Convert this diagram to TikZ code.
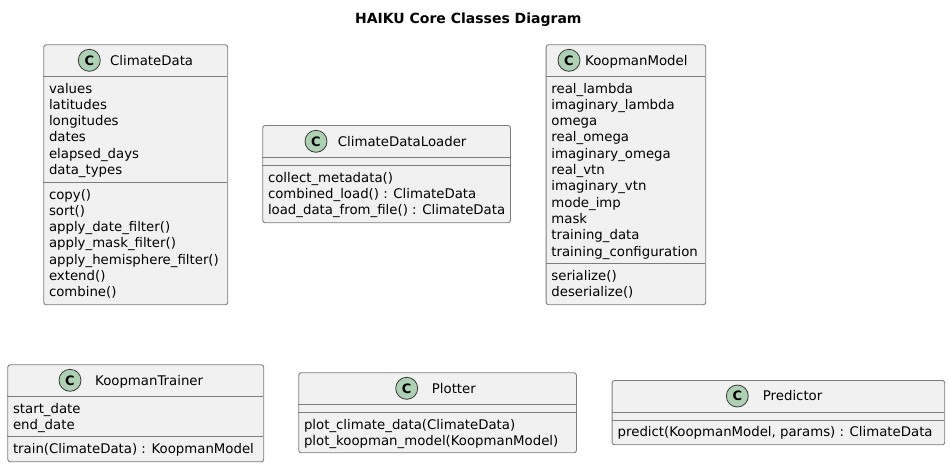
\documentclass[tikz,border=0pt]{standalone}
\usepackage{fontspec}
\setmainfont{DejaVu Sans}
\definecolor{boxfill}{HTML}{F1F1F1}
\definecolor{boxline}{HTML}{7C7C7C}
\definecolor{iconfill}{HTML}{ADD1B2}
\definecolor{iconline}{HTML}{383838}

\begin{document}
\begin{tikzpicture}[x=1pt,y=-1pt,
    classbox/.style={draw=boxline, fill=boxfill, rounded corners=2.5pt, line width=0.9pt, inner sep=0pt, anchor=north west},
    sepline/.style={draw=boxline, line width=0.9pt},
    classicon/.style={circle, draw=iconline, fill=iconfill, line width=0.8pt, minimum size=22pt, inner sep=0pt, font=\fontsize{13}{13}\selectfont\bfseries},
    classname/.style={anchor=base west, inner sep=0pt, font=\fontsize{13.3}{16}\selectfont},
    member/.style={anchor=base west, inner sep=0pt, font=\fontsize{13.3}{16}\selectfont}]
    \useasboundingbox (0,0) rectangle (950,467);
    \node[anchor=base, inner sep=0pt, font=\fontsize{14}{16}\selectfont\bfseries] (title) at (468.3,23.4) {HAIKU Core Classes Diagram};

    % ClimateData
    \node[classbox, minimum width=184pt, minimum height=260pt] (climatedata) at (43.3,44.3) {};
    \draw[sepline] (43.3,76.3) -- (227.3,76.3);
    \draw[sepline] (43.3,182.3) -- (227.3,182.3);
    \node[classicon] (climatedata-c) at (89.3,60.3) {C};
    \node[classname] (climatedata-name) at (110,65.2) {ClimateData};
    \foreach \t [count=\i from 0] in {values, latitudes, longitudes, dates, elapsed\_days, data\_types}
        \node[member] (climatedata-a\i) at (48.8,{93+16.3*\i}) {\t};
    \foreach \t [count=\i from 0] in {copy(), sort(), apply\_date\_filter(), apply\_mask\_filter(), apply\_hemisphere\_filter(), extend(), combine()}
        \node[member] (climatedata-m\i) at (48.8,{199+16.3*\i}) {\t};

    % ClimateDataLoader
    \node[classbox, minimum width=247.7pt, minimum height=97.3pt] (loader) at (262.3,125) {};
    \draw[sepline] (262.3,157.3) -- (510,157.3);
    \draw[sepline] (262.3,165.3) -- (510,165.3);
    \node[classicon] (loader-c) at (316,141.3) {C};
    \node[classname] (loader-name) at (337.7,146.2) {ClimateDataLoader};
    \foreach \t [count=\i from 0] in {collect\_metadata(), combined\_load() : ClimateData, load\_data\_from\_file() : ClimateData}
        \node[member] (loader-m\i) at (267.8,{182+16.3*\i}) {\t};

    % KoopmanModel
    \node[classbox, minimum width=159.6pt, minimum height=260pt] (model) at (545.7,44.3) {};
    \draw[sepline] (545.7,76.3) -- (705.3,76.3);
    \draw[sepline] (545.7,263.3) -- (705.3,263.3);
    \node[classicon] (model-c) at (569,60.3) {C};
    \node[classname] (model-name) at (585,65.2) {KoopmanModel};
    \foreach \t [count=\i from 0] in {real\_lambda, imaginary\_lambda, omega, real\_omega, imaginary\_omega, real\_vtn, imaginary\_vtn, mode\_imp, mask, training\_data, training\_configuration}
        \node[member] (model-a\i) at (551.2,{93+16.3*\i}) {\t};
    \foreach \t [count=\i from 0] in {serialize(), deserialize()}
        \node[member] (model-m\i) at (551.2,{280+16.3*\i}) {\t};

    % KoopmanTrainer
    \node[classbox, minimum width=256pt, minimum height=97pt] (trainer) at (7.3,364.3) {};
    \draw[sepline] (7.3,396.3) -- (263.3,396.3);
    \draw[sepline] (7.3,436.3) -- (263.3,436.3);
    \node[classicon] (trainer-c) at (70,380.3) {C};
    \node[classname] (trainer-name) at (95,385.2) {KoopmanTrainer};
    \foreach \t [count=\i from 0] in {start\_date, end\_date}
        \node[member] (trainer-a\i) at (12.8,{413+16.3*\i}) {\t};
    \node[member] (trainer-m0) at (12.8,453) {train(ClimateData) : KoopmanModel};

    % Plotter
    \node[classbox, minimum width=277.7pt, minimum height=80pt] (plotter) at (298.3,372.3) {};
    \draw[sepline] (298.3,404.3) -- (576,404.3);
    \draw[sepline] (298.3,412.3) -- (576,412.3);
    \node[classicon] (plotter-c) at (406.7,388.3) {C};
    \node[classname] (plotter-name) at (431.7,393.2) {Plotter};
    \foreach \t [count=\i from 0] in {plot\_climate\_data(ClimateData), plot\_koopman\_model(KoopmanModel)}
        \node[member] (plotter-m\i) at (303.8,{429+16.3*\i}) {\t};

    % Predictor
    \node[classbox, minimum width=332.6pt, minimum height=64.3pt] (predictor) at (611.7,380) {};
    \draw[sepline] (611.7,412) -- (944.3,412);
    \draw[sepline] (611.7,420) -- (944.3,420);
    \node[classicon] (predictor-c) at (737.3,396) {C};
    \node[classname] (predictor-name) at (762.7,400.9) {Predictor};
    \node[member] (predictor-m0) at (617.5,436.7) {predict(KoopmanModel, params) : ClimateData};
\end{tikzpicture}
\end{document}
